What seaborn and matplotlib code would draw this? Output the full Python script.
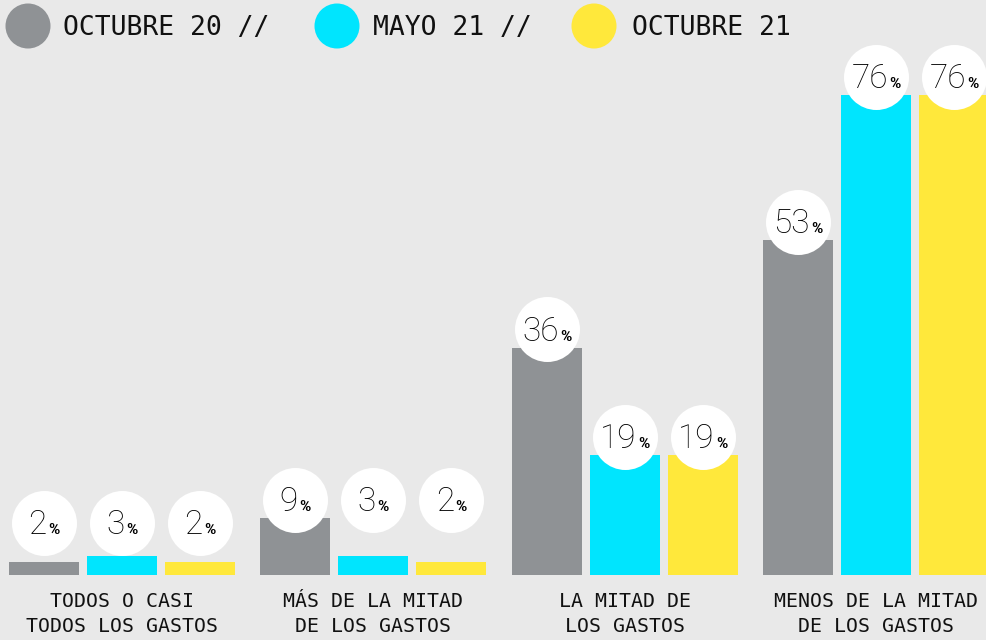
import matplotlib

matplotlib.use("Agg")
import matplotlib.pyplot as plt
import pandas as pd
import seaborn as sns
from matplotlib.offsetbox import AnnotationBbox, HPacker, TextArea
from matplotlib.patches import Circle


CATEGORIES = [
    "TODOS O CASI\nTODOS LOS GASTOS",
    "MÁS DE LA MITAD\nDE LOS GASTOS",
    "LA MITAD DE\nLOS GASTOS",
    "MENOS DE LA MITAD\nDE LOS GASTOS",
]
SERIES = ["OCTUBRE 20", "MAYO 21", "OCTUBRE 21"]
OCT_20 = [2, 9, 36, 53]
MAY_21 = [3, 3, 19, 76]
OCT_21 = [2, 2, 19, 76]

PALETTE = {
    "OCTUBRE 20": "#8f9295",  # concrete gray
    "MAYO 21": "#00e5fe",     # cyan
    "OCTUBRE 21": "#ffe83b",  # yellow
}
BG = "#e9e9e9"
INK = "#000000"
MONO = "DejaVu Sans Mono"
NUM_FONT = "Roboto"

W, H = 987, 640

sns.set_theme(style="white")

df = pd.DataFrame({
    "category": CATEGORIES * 3,
    "series": [s for s in SERIES for _ in CATEGORIES],
    "value": OCT_20 + MAY_21 + OCT_21,
})

fig = plt.figure(figsize=(W / 100, H / 100), dpi=100, facecolor=BG)
ax = fig.add_axes([0, 65 / H, 1, 575 / H])
ax.set_facecolor("none")

sns.barplot(
    data=df, x="category", y="value", hue="series",
    order=CATEGORIES, hue_order=SERIES, palette=PALETTE,
    width=0.931, gap=0.1025, linewidth=0, saturation=1,
    errorbar=None, legend=False, ax=ax,
)

ax.set_xlim(-0.485, 3.442)
ax.set_ylim(0, 91.1)
for sp in ax.spines.values():
    sp.set_visible(False)
ax.set_yticks([])
ax.set_xlabel("")
ax.set_ylabel("")
ax.tick_params(axis="x", length=0, pad=12)
for lbl in ax.get_xticklabels():
    lbl.set_fontfamily(MONO)
    lbl.set_fontsize(14.3)
    lbl.set_color("#111111")
    lbl.set_linespacing(1.45)

# value bubbles: small values in a group share one height
group_vals = list(zip(OCT_20, MAY_21, OCT_21))
floors = []
for vals in group_vals:
    small = [v for v in vals if v < 10]
    floors.append(max(max(small) + 2.9 if small else 0, 8.2))

circle_pt = 65 * 72 / 100
for container in ax.containers:
    for j, bar in enumerate(container):
        v = bar.get_height()
        x = bar.get_x() + bar.get_width() / 2
        y = max(v + 2.9, floors[j])
        ax.scatter([x], [y], s=circle_pt ** 2, color="white", linewidths=0,
                   zorder=3, clip_on=False)
        box = HPacker(
            children=[
                TextArea(f"{v:.0f}", textprops=dict(family=NUM_FONT, size=24,
                                                    weight="light", color=INK)),
                TextArea("%", textprops=dict(family=NUM_FONT, size=11,
                                             weight="bold", color=INK)),
            ],
            align="baseline", pad=0, sep=1,
        )
        ab = AnnotationBbox(box, (x, y), xybox=(0, -1.5), xycoords="data",
                            boxcoords="offset points", frameon=False,
                            box_alignment=(0.5, 0.5), zorder=4)
        ax.add_artist(ab)

# legend strip across the top
lax = fig.add_axes([0, 0, 1, 1], zorder=5)
lax.set_xlim(0, W)
lax.set_ylim(H, 0)
lax.axis("off")
legend_items = [
    ("OCTUBRE 20 //", 28, 63),
    ("MAYO 21 //", 337, 373),
    ("OCTUBRE 21", 594, 632),
]
for (text, cx, tx), series in zip(legend_items, SERIES):
    lax.add_patch(Circle((cx, 26), 22.5, color=PALETTE[series], lw=0))
    lax.text(tx, 28, text, ha="left", va="center", family=MONO,
             fontsize=19, color="#111111")

fig.savefig("out.png", dpi=100, facecolor=BG)
